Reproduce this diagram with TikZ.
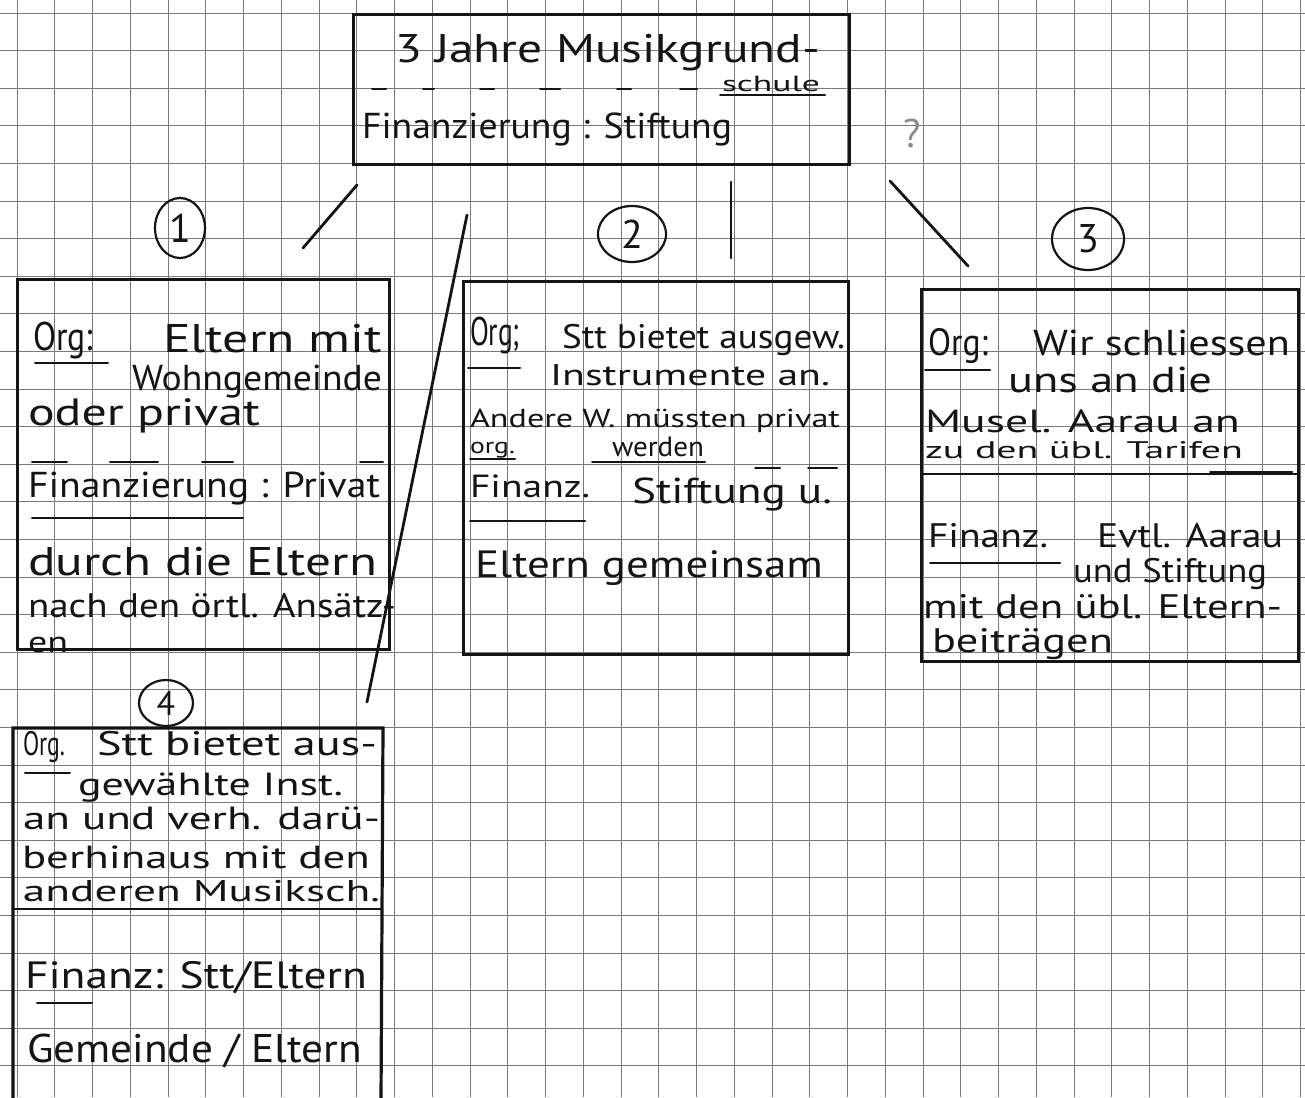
\documentclass[tikz,border=0pt]{standalone}
\usepackage{fontspec}
\usepackage{graphicx}
\setmainfont{PT Sans}
\definecolor{ink}{HTML}{141414}
\definecolor{gridc}{HTML}{7A7A7A}
\definecolor{pencil}{HTML}{8A8A8A}
\newsavebox{\hwbox}
\newlength{\hwlen}
\newcommand{\fitw}[2]{\sbox{\hwbox}{#2}\setlength{\hwlen}{\wd\hwbox}\pgfmathsetmacro{\hwsx}{#1/\hwlen}\scalebox{\hwsx}[1]{\usebox{\hwbox}}}
\newcommand{\fs}[1]{\fontsize{#1}{#1}\selectfont}
\tikzset{
  hw/.style={anchor=base west, inner sep=0pt, outer sep=0pt, text=ink},
  boxline/.style={draw=ink, line width=3.2pt, line join=miter},
  stroke/.style={draw=ink, line width=2.8pt, line cap=round},
  uline/.style={draw=ink, line width=2pt, line cap=round},
  gridline/.style={draw=gridc, line width=0.9pt},
  circnum/.style={draw=ink, line width=2.2pt, ellipse, inner sep=0pt, text=ink, font=\fs{40}},
}
\usetikzlibrary{shapes.geometric}
\begin{document}
\begin{tikzpicture}[x=1pt,y=-1pt]
\useasboundingbox (0,0) rectangle (1305,1097);
\fill[white] (0,0) rectangle (1305,1097);
% grid paper
\foreach \i in {0,...,34} \draw[gridline] ({17+\i*37.75},0) -- ({17+\i*37.75},1097);
\foreach \j in {0,...,28} \draw[gridline] (0,{13+\j*37.6}) -- (1305,{13+\j*37.6});

% ---------- boxes ----------
\node[boxline, anchor=north west, minimum width=496pt, minimum height=150pt, inner sep=0pt] (top) at (352,13) {};
\node[boxline, anchor=north west, minimum width=372pt, minimum height=370pt, inner sep=0pt] (box1) at (16,278) {};
\node[boxline, anchor=north west, minimum width=385pt, minimum height=373pt, inner sep=0pt] (box2) at (462,280) {};
\node[boxline, anchor=north west, minimum width=377pt, minimum height=372pt, inner sep=0pt] (box3) at (920,288) {};
\draw[boxline] (13,1100) -- (13,728) -- (383,728) -- (381,1100);
\coordinate (box4) at (198,728);

% ---------- circled numbers and ? ----------
\node[circnum, minimum width=50pt, minimum height=60pt] (n1) at (180,228) {1};
\node[circnum, minimum width=68pt, minimum height=56pt] (n2) at (632,234) {2};
\node[circnum, minimum width=72pt, minimum height=62pt] (n3) at (1088,239) {3};
\node[circnum, minimum width=54pt, minimum height=46pt, font=\fs{34}] (n4) at (166,703) {4};
\node[text=pencil, font=\fs{40}, inner sep=0pt] (q) at (912,133) {?};

% ---------- connectors ----------
\coordinate (c1a) at (357,185); \coordinate (c1b) at (303,248);
\coordinate (c2a) at (731,182); \coordinate (c2b) at (731,258);
\coordinate (c3a) at (890,181); \coordinate (c3b) at (968,266);
\coordinate (c4a) at (467,215); \coordinate (c4b) at (367,702);
\draw[stroke] (c1a) -- (c1b);
\draw[stroke] (c2a) -- (c2b);
\draw[stroke] (c3a) -- (c3b);
\draw[stroke] (c4a) -- (c4b);

% ---------- top box text ----------
\node[hw, font=\fs{40}] (tA) at (395,63) {\fitw{425}{3 Jahre Musikgrund-}};
\node[hw, font=\fs{22}] (tB) at (722,92) {\fitw{98}{schule}};
\foreach \a/\b in {372/386,423/434,480/494,540/560,617/631,680/697}
  \draw[uline] (\a,89) -- (\b,89);
\draw[uline] (720,95) -- (825,95);
\node[hw, font=\fs{36}] (tC) at (362,138) {\fitw{370}{Finanzierung : Stiftung}};

% ---------- box 1 ----------
\node[hw, font=\fs{40}] (a1) at (33,350) {\fitw{60}{Org:}};
\draw[uline] (35,363) -- (108,363);
\node[hw, font=\fs{40}] (a2) at (163,352) {\fitw{219}{Eltern mit}};
\node[hw, font=\fs{36}] (a3) at (132,390) {\fitw{250}{Wohngemeinde}};
\node[hw, font=\fs{38}] (a4) at (28,425) {\fitw{232}{oder privat}};
\foreach \a/\b in {32/67,110/158,202/233,360/383}
  \draw[uline] (\a,462) -- (\b,462);
\node[hw, font=\fs{36}] (a5) at (28,497) {\fitw{352}{Finanzierung : Privat}};
\draw[uline] (32,518) -- (243,518);
\node[hw, font=\fs{40}] (a6) at (28,575) {\fitw{349}{durch die Eltern}};
\node[hw, font=\fs{34}] (a7) at (28,617) {\fitw{368}{nach den örtl. Ansätz-}};
\node[hw, font=\fs{30}] (a8) at (28,652) {\fitw{40}{en}};

% ---------- box 2 ----------
\node[hw, font=\fs{40}] (b1) at (470,345) {\fitw{50}{Org;}};
\draw[uline] (468,368) -- (520,368);
\node[hw, font=\fs{34}] (b2) at (562,348) {\fitw{283}{Stt bietet ausgew.}};
\node[hw, font=\fs{30}] (b3) at (550,385) {\fitw{280}{Instrumente an.}};
\node[hw, font=\fs{26}] (b4) at (470,427) {\fitw{370}{Andere W. müssten privat}};
\node[hw, font=\fs{22}] (b5) at (470,453) {\fitw{45}{org.}};
\node[hw, font=\fs{28}] (b6) at (612,456) {\fitw{92}{werden}};
\draw[uline] (470,459) -- (515,459);
\draw[uline] (592,462) -- (705,462);
\draw[uline] (755,468) -- (780,468);
\draw[uline] (808,468) -- (837,468);
\node[hw, font=\fs{32}] (b7) at (470,497) {\fitw{120}{Finanz.}};
\draw[uline] (470,521) -- (585,521);
\node[hw, font=\fs{36}] (b8) at (632,503) {\fitw{200}{Stiftung u.}};
\node[hw, font=\fs{38}] (b9) at (475,577) {\fitw{348}{Eltern gemeinsam}};

% ---------- box 3 ----------
\node[hw, font=\fs{38}] (d1) at (928,355) {\fitw{60}{Org:}};
\draw[uline] (925,370) -- (990,370);
\node[hw, font=\fs{36}] (d2) at (1033,355) {\fitw{257}{Wir schliessen}};
\node[hw, font=\fs{36}] (d3) at (1008,392) {\fitw{204}{uns an die}};
\node[hw, font=\fs{32}] (d4) at (925,432) {\fitw{315}{Musel. Aarau an}};
\node[hw, font=\fs{24}] (d5) at (925,458) {\fitw{318}{zu den übl. Tarifen}};
\draw[uline] (1210,472) -- (1292,472);
\draw[boxline, line width=2.4pt] (920,474) -- (1297,474);
\node[hw, font=\fs{34}] (d6) at (928,547) {\fitw{120}{Finanz.}};
\draw[uline] (930,563) -- (1060,563);
\node[hw, font=\fs{34}] (d7) at (1097,547) {\fitw{186}{Evtl. Aarau}};
\node[hw, font=\fs{34}] (d8) at (1073,582) {\fitw{194}{und Stiftung}};
\node[hw, font=\fs{34}] (d9) at (923,618) {\fitw{359}{mit den übl. Eltern-}};
\node[hw, font=\fs{34}] (d10) at (932,652) {\fitw{181}{beiträgen}};

% ---------- box 4 ----------
\node[hw, font=\fs{34}] (e1) at (23,755) {\fitw{42}{Org.}};
\draw[uline] (25,773) -- (70,773);
\node[hw, font=\fs{34}] (e2) at (97,755) {\fitw{280}{Stt bietet aus-}};
\node[hw, font=\fs{32}] (e3) at (78,795) {\fitw{265}{gewählte Inst.}};
\node[hw, font=\fs{32}] (e4) at (23,829) {\fitw{357}{an und verh. darü-}};
\node[hw, font=\fs{32}] (e5) at (22,868) {\fitw{348}{berhinaus mit den}};
\node[hw, font=\fs{30}] (e6) at (23,901) {\fitw{357}{anderen Musiksch.}};
\draw[boxline, line width=2.4pt] (13,909) -- (382,909);
\node[hw, font=\fs{38}] (e7) at (25,988) {\fitw{342}{Finanz: Stt/Eltern}};
\draw[uline] (37,1003) -- (92,1003);
\node[hw, font=\fs{40}] (e8) at (27,1062) {\fitw{335}{Gemeinde / Eltern}};
\end{tikzpicture}
\end{document}
